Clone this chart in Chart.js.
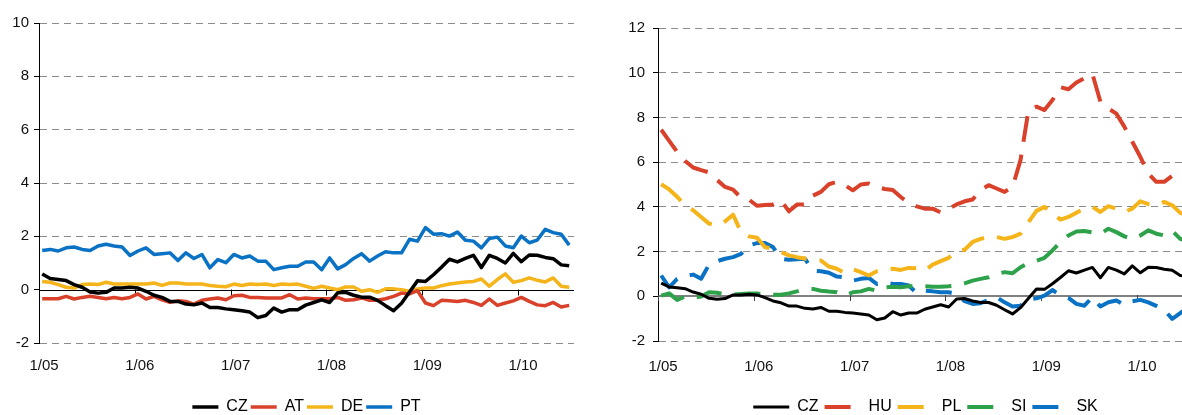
<!DOCTYPE html>
<html><head><meta charset="utf-8">
<script src="https://cdn.jsdelivr.net/npm/chart.js@4.4.1/dist/chart.umd.min.js"></script>
<style>
html,body{margin:0;padding:0;background:#fff;overflow:hidden;width:1182px;height:415px;}
#c1{position:absolute;left:0;top:0;}
#c2{position:absolute;left:610px;top:0;}
</style></head><body>
<canvas id="c1" width="608" height="425"></canvas>
<canvas id="c2" width="590" height="425"></canvas>
<script>
// ---- data (monthly, 1/2005 .. 7/2010) ----
const xTickMonths = [0, 12, 24, 36, 48, 60];
const xTickLabels = ['1/05', '1/06', '1/07', '1/08', '1/09', '1/10'];
const leftYTicks = [-2, 0, 2, 4, 6, 8, 10];
const rightYTicks = [-2, 0, 2, 4, 6, 8, 10, 12];

const cz = [0.59,0.42,0.38,0.34,0.19,0.09,-0.09,-0.13,-0.10,0.06,0.06,0.09,
  0.06,-0.06,-0.21,-0.29,-0.44,-0.44,-0.54,-0.57,-0.50,-0.67,-0.67,-0.72,
  -0.75,-0.79,-0.84,-1.05,-0.97,-0.69,-0.84,-0.75,-0.75,-0.58,-0.48,-0.38,
  -0.48,-0.12,-0.10,-0.21,-0.28,-0.28,-0.40,-0.60,-0.79,-0.51,-0.09,0.33,
  0.31,0.56,0.84,1.14,1.04,1.17,1.29,0.83,1.29,1.17,1.00,1.36,1.05,1.30,
  1.29,1.21,1.16,0.93,0.90];
const at = [-0.34,-0.34,-0.34,-0.25,-0.35,-0.29,-0.25,-0.29,-0.34,-0.29,-0.34,-0.29,
  -0.16,-0.35,-0.25,-0.38,-0.47,-0.42,-0.44,-0.54,-0.40,-0.35,-0.31,-0.38,
  -0.23,-0.21,-0.29,-0.29,-0.31,-0.31,-0.31,-0.19,-0.35,-0.31,-0.34,-0.34,
  -0.34,-0.29,-0.40,-0.38,-0.31,-0.40,-0.40,-0.34,-0.25,-0.13,-0.16,-0.04,
  -0.50,-0.60,-0.40,-0.42,-0.44,-0.40,-0.48,-0.59,-0.35,-0.59,-0.50,-0.42,
  -0.29,-0.44,-0.57,-0.60,-0.48,-0.65,-0.59];
const de = [0.31,0.28,0.19,0.09,0.06,0.19,0.21,0.19,0.28,0.21,0.21,0.21,
  0.21,0.21,0.25,0.16,0.25,0.25,0.21,0.21,0.21,0.16,0.13,0.11,
  0.21,0.16,0.21,0.19,0.21,0.16,0.21,0.19,0.21,0.13,0.05,0.13,
  0.06,0.00,0.10,0.10,-0.06,0.00,-0.10,0.03,0.03,0.00,-0.06,0.03,
  0.06,0.06,0.15,0.21,0.25,0.29,0.31,0.40,0.13,0.38,0.59,0.28,
  0.34,0.44,0.35,0.29,0.44,0.13,0.09];
const pt = [1.47,1.51,1.45,1.57,1.60,1.51,1.47,1.64,1.70,1.64,1.60,1.28,
  1.45,1.57,1.32,1.35,1.38,1.09,1.38,1.17,1.32,0.82,1.13,1.01,
  1.32,1.19,1.26,1.07,1.07,0.75,0.82,0.88,0.88,1.04,1.04,0.75,
  1.19,0.78,0.94,1.17,1.35,1.07,1.26,1.42,1.38,1.38,1.89,1.82,
  2.33,2.08,2.10,2.01,2.16,1.85,1.82,1.57,1.92,1.97,1.64,1.57,
  2.01,1.76,1.86,2.26,2.14,2.08,1.67];
const hu = [7.45,6.95,6.46,6.05,5.76,5.64,5.54,5.20,4.89,4.77,4.41,4.32,
  4.05,4.08,4.11,4.29,3.80,4.10,4.11,4.50,4.67,5.01,5.12,4.97,
  4.74,5.00,5.04,4.89,4.80,4.75,4.44,4.17,4.02,3.92,3.92,3.75,
  3.92,4.11,4.25,4.33,4.74,4.97,4.82,4.67,4.89,6.09,8.33,8.48,
  8.33,8.78,9.35,9.26,9.56,9.75,9.95,8.71,8.40,8.17,7.59,6.91,
  6.24,5.49,5.12,5.12,5.39,5.19,5.10];
const pl = [5.01,4.78,4.45,4.07,3.85,3.55,3.25,3.17,3.35,3.65,2.87,2.68,
  2.62,2.20,2.13,1.98,1.83,1.75,1.69,1.60,1.60,1.33,1.23,1.03,
  1.21,1.08,0.93,1.12,1.15,1.23,1.18,1.27,1.25,1.15,1.42,1.57,
  1.72,2.02,2.08,2.43,2.57,2.65,2.65,2.57,2.65,2.80,3.32,3.82,
  4.00,3.73,3.43,3.55,3.74,3.92,4.00,3.77,4.03,3.92,3.77,3.92,
  4.25,4.12,4.07,4.22,4.07,3.73,3.60];
const si = [0.03,0.13,-0.16,-0.01,-0.07,-0.01,0.18,0.16,0.07,0.07,0.10,0.13,
  0.13,0.07,0.07,0.07,0.13,0.22,0.33,0.33,0.25,0.21,0.18,0.03,
  0.18,0.22,0.33,0.25,0.40,0.43,0.40,0.45,0.44,0.45,0.43,0.43,
  0.45,0.48,0.58,0.70,0.78,0.85,1.00,1.08,1.03,1.30,1.48,1.59,
  1.72,2.05,2.43,2.72,2.90,2.92,2.86,2.80,3.02,2.87,2.68,2.57,
  2.72,2.95,2.80,2.72,2.92,2.57,2.45];
const sk = [0.93,0.40,0.78,0.90,0.97,0.78,1.42,1.57,1.68,1.75,1.90,2.28,
  2.38,2.38,2.20,1.68,1.63,1.66,1.68,1.15,1.12,1.05,0.88,0.85,
  0.70,0.78,0.82,0.55,0.63,0.55,0.55,0.48,0.14,0.25,0.22,0.18,
  0.18,0.10,-0.22,-0.34,-0.31,-0.16,-0.04,-0.27,-0.46,-0.42,-0.13,-0.09,
  0.03,0.28,0.04,-0.07,-0.34,-0.42,-0.04,-0.46,-0.27,-0.19,-0.39,-0.22,
  -0.16,-0.27,-0.43,-0.61,-1.01,-0.75,-0.50];

// ---- styling ----
const COL = {black:'#000000', red:'#D9412B', yellow:'#F4B41A', blue:'#0A72C4', green:'#2EA24A'};
const MONTH_OFFSET = 0.4;
const FONT = "'Liberation Sans', Arial, 'DejaVu Sans', sans-serif";
Chart.defaults.font.family = FONT;
Chart.defaults.color = '#000';
Chart.defaults.animation = false;

const toPoints = arr => arr.map((v, i) => ({x: i + MONTH_OFFSET, y: v}));

const zeroAxis = {
  id: 'zeroAxis',
  beforeDatasetsDraw(chart, args, o) {
    const {ctx, chartArea, scales} = chart;
    const y0r = scales.y.getPixelForValue(0);
    const y0 = o.width % 2 ? Math.round(y0r) + 0.5 : Math.round(y0r);
    ctx.save();
    ctx.strokeStyle = o.color; ctx.lineWidth = o.width; ctx.setLineDash([]);
    ctx.beginPath(); ctx.moveTo(chartArea.left, y0); ctx.lineTo(chartArea.right, y0); ctx.stroke();
    ctx.lineWidth = 1; ctx.strokeStyle = o.tickColor;
    scales.x.ticks.forEach(t => {
      const px = Math.round(scales.x.getPixelForValue(t.value)) + 0.5;
      ctx.beginPath(); ctx.moveTo(px, y0 - 1); ctx.lineTo(px, y0 + o.tickLen); ctx.stroke();
    });
    ctx.restore();
  }
};

function legendLabels(chart) {
  return chart.data.datasets.map((ds, i) => ({
    text: ds.label, strokeStyle: ds.borderColor, fillStyle: ds.borderColor,
    lineWidth: ds.borderWidth, lineDash: ds.borderDash || [], lineCap: 'butt',
    pointStyle: 'line', rotation: 180, hidden: false, datasetIndex: i, fontColor: '#000'
  }));
}

function makeChart(id, datasets, cfg) {
  return new Chart(document.getElementById(id), {
    type: 'line',
    data: {datasets},
    plugins: [zeroAxis],
    options: {
      responsive: false, devicePixelRatio: 1, animation: false, events: [],
      layout: {padding: {left: 0, right: cfg.padRight, top: cfg.padTop, bottom: 0}},
      elements: {point: {radius: 0}, line: {tension: 0, borderJoinStyle: 'round', borderCapStyle: 'butt'}},
      scales: {
        x: {
          type: 'linear', min: 0, max: 67,
          afterBuildTicks: s => { s.ticks = xTickMonths.map(v => ({value: v})); },
          afterFit: s => { s.height = cfg.xHeight; },
          grid: {display: false, drawTicks: false},
          border: {display: false},
          ticks: {autoSkip: false, maxRotation: 0, padding: cfg.xPad, labelOffset: 5,
            font: {size: 15}, color: '#111',
            callback: v => xTickLabels[xTickMonths.indexOf(v)]}
        },
        y: {
          min: cfg.yTicks[0], max: cfg.yTicks[cfg.yTicks.length - 1],
          afterBuildTicks: s => { s.ticks = cfg.yTicks.map(v => ({value: v})); },
          afterFit: s => { s.width = cfg.yWidth; },
          grid: {
            color: c => (c.tick && c.tick.value === 0) ? 'rgba(0,0,0,0)' : '#8c8c8c',
            lineWidth: 1, drawTicks: true, tickLength: 5, tickColor: '#000', tickBorderDash: []
          },
          border: {display: true, color: '#000', width: 1, dash: [7, 5]},
          ticks: {padding: cfg.yPad, font: {size: 15}, color: '#111'}
        }
      },
      plugins: {
        tooltip: {enabled: false},
        zeroAxis: cfg.zero,
        legend: {
          position: 'bottom', fullSize: false, align: 'center',
          labels: {usePointStyle: true, pointStyleWidth: cfg.legendW, padding: cfg.legendPad,
            font: {size: 16}, color: '#000', generateLabels: legendLabels}
        }
      }
    }
  });
}

makeChart('c1', [
  {label: 'CZ', data: toPoints(cz), borderColor: COL.black, borderWidth: 3.5},
  {label: 'AT', data: toPoints(at), borderColor: COL.red, borderWidth: 3.5},
  {label: 'DE', data: toPoints(de), borderColor: COL.yellow, borderWidth: 3.5},
  {label: 'PT', data: toPoints(pt), borderColor: COL.blue, borderWidth: 3.5}
], {padRight: 34, padTop: 23, xHeight: 53, xPad: 14, yWidth: 39, yPad: 5, yTicks: leftYTicks,
    legendW: 26, legendPad: 3, zero: {color: '#000', width: 1, tickColor: '#000', tickLen: 5}});

makeChart('c2', [
  {label: 'CZ', data: toPoints(cz), borderColor: COL.black, borderWidth: 3},
  {label: 'HU', data: toPoints(hu), borderColor: COL.red, borderWidth: 4, borderDash: [26, 13]},
  {label: 'PL', data: toPoints(pl), borderColor: COL.yellow, borderWidth: 4, borderDash: [26, 13]},
  {label: 'SI', data: toPoints(si), borderColor: COL.green, borderWidth: 4, borderDash: [26, 13]},
  {label: 'SK', data: toPoints(sk), borderColor: COL.blue, borderWidth: 4, borderDash: [26, 13]}
], {padRight: 7, padTop: 28, xHeight: 52, xPad: 17, yWidth: 48, yPad: 8, yTicks: rightYTicks,
    legendW: 36, legendPad: 6, zero: {color: '#808080', width: 2, tickColor: '#404040', tickLen: 5}});
</script>
</body></html>
